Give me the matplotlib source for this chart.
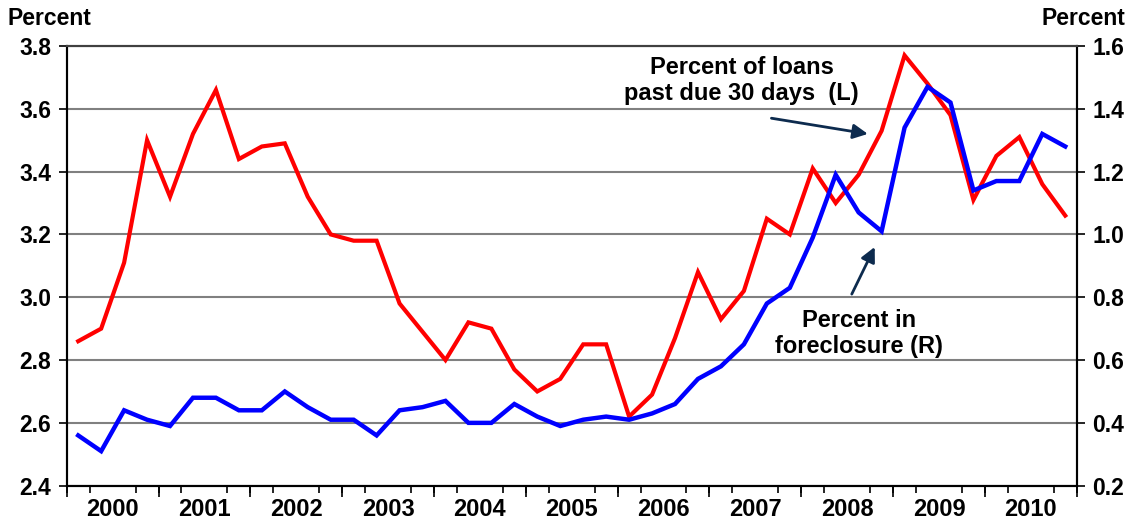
import numpy as np
from matplotlib import pyplot as plt

plt.rcParams['font.family'] = ['Liberation Sans', 'DejaVu Sans']
plt.rcParams['font.weight'] = 'bold'

years = [str(y) for y in range(2000, 2011)]
# quarterly, 2000Q1 .. 2010Q4
past_due = [2.86, 2.90, 3.11, 3.50, 3.32, 3.52, 3.66, 3.44,
            3.48, 3.49, 3.32, 3.20, 3.18, 3.18, 2.98, 2.89,
            2.80, 2.92, 2.90, 2.77, 2.70, 2.74, 2.85, 2.85,
            2.62, 2.69, 2.87, 3.08, 2.93, 3.02, 3.25, 3.20,
            3.41, 3.30, 3.39, 3.53, 3.77, 3.68, 3.58, 3.31,
            3.45, 3.51, 3.36, 3.26]
foreclosure = [0.36, 0.31, 0.44, 0.41, 0.39, 0.48, 0.48, 0.44,
               0.44, 0.50, 0.45, 0.41, 0.41, 0.36, 0.44, 0.45,
               0.47, 0.40, 0.40, 0.46, 0.42, 0.39, 0.41, 0.42,
               0.41, 0.43, 0.46, 0.54, 0.58, 0.65, 0.78, 0.83,
               0.99, 1.19, 1.07, 1.01, 1.34, 1.47, 1.42, 1.14,
               1.17, 1.17, 1.32, 1.28]

x = np.arange(len(past_due))

fig = plt.figure(figsize=(11.29, 5.19), dpi=100)
ax = fig.add_axes([0.0591, 0.0642, 0.8946, 0.8472])
ax2 = ax.twinx()

ax.plot(x, past_due, color='#ff0000', lw=3.0, solid_joinstyle='miter', zorder=3)
ax2.plot(x, foreclosure, color='#0000ff', lw=3.2, solid_joinstyle='miter', zorder=3)

ax.set_xlim(-0.5, len(x) - 0.5)
ax.set_ylim(2.4, 3.8)
ax2.set_ylim(0.2, 1.6)
ax.set_yticks(np.arange(2.4, 3.81, 0.2))
ax2.set_yticks(np.arange(0.2, 1.61, 0.2))
ax.set_yticklabels(['%.1f' % v for v in np.arange(2.4, 3.81, 0.2)], fontsize=16.5, fontweight='bold')
ax2.set_yticklabels(['%.1f' % v for v in np.arange(0.2, 1.61, 0.2)], fontsize=16.5, fontweight='bold')
ax.grid(axis='y', color='#808080', lw=1.5)
ax.set_axisbelow(True)

# year labels at centres, quarter ticks at boundaries
centers = np.arange(len(years)) * 4 + 1.5
ax.set_xticks(centers)
ax.set_xticklabels(years, fontsize=17, fontweight='bold')
ax.tick_params(axis='x', which='major', length=0, pad=9)
ax.set_xticks(np.arange(-0.5, len(x), 1), minor=True)
ax.tick_params(axis='x', which='minor', length=5, width=1.2, direction='out')
sec = ax.secondary_xaxis('bottom')
sec.set_xticks(np.arange(-0.5, len(x) + 0.5, 4))
sec.set_xticklabels([])
sec.tick_params(length=8, width=1.2)
sec.spines['bottom'].set_visible(False)

ax.tick_params(axis='y', length=6, width=1.2, pad=5)
ax2.tick_params(axis='y', length=6, width=1.2, pad=5)
for a in (ax, ax2):
    for s in ('left', 'right', 'bottom'):
        a.spines[s].set_linewidth(1.5)
    a.spines['top'].set_color('#404040')
    a.spines['top'].set_linewidth(1.5)

fig.text(0.007, 0.965, 'Percent', fontsize=16.5, fontweight='bold', ha='left', va='center')
fig.text(0.997, 0.965, 'Percent', fontsize=16.5, fontweight='bold', ha='right', va='center')

navy = '#0d2b4e'
ax.text(28.9, 3.69, 'Percent of loans\npast due 30 days  (L)', fontsize=17,
        fontweight='bold', ha='center', va='center', linespacing=1.2)
ax.annotate('', xy=(34.4, 3.52), xytext=(30.2, 3.57),
            arrowprops=dict(arrowstyle='-|>', color=navy, lw=2, mutation_scale=22,
                            shrinkA=0, shrinkB=0))
ax2.text(34.0, 0.685, 'Percent in\nforeclosure (R)', fontsize=17,
         fontweight='bold', ha='center', va='center', linespacing=1.2)
ax2.annotate('', xy=(34.7, 0.96), xytext=(33.7, 0.81),
             arrowprops=dict(arrowstyle='-|>', color=navy, lw=2, mutation_scale=22,
                             shrinkA=0, shrinkB=0))

fig.savefig('out.png', dpi=100)
